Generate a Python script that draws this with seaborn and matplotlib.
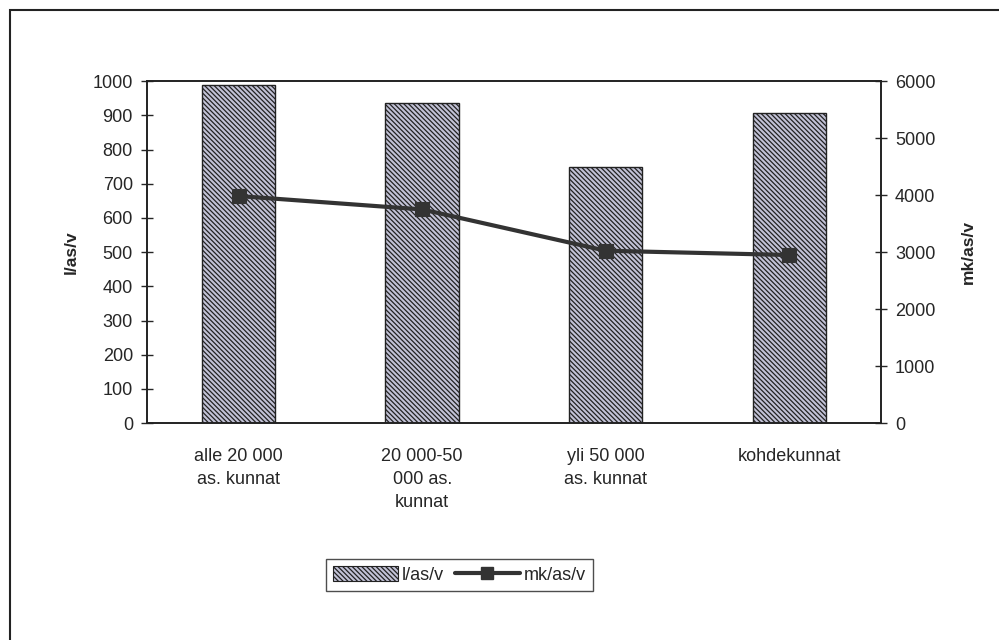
import numpy as np
import pandas as pd
import matplotlib
matplotlib.use("Agg")
import matplotlib.pyplot as plt
import seaborn as sns
from matplotlib.patches import Patch, Rectangle
from matplotlib.lines import Line2D

# data
categories = ["alle 20 000\nas. kunnat", "20 000-50\n000 as.\nkunnat",
              "yli 50 000\nas. kunnat", "kohdekunnat"]
litres = [990, 935, 750, 908]          # l/as/v, left axis
costs = [3985, 3750, 3025, 2950]       # mk/as/v, right axis

sns.set_theme(style="white")
plt.rcParams['font.family'] = ['Liberation Sans', 'DejaVu Sans']

df = pd.DataFrame({"cat": categories, "l": litres, "mk": costs})

fig = plt.figure(figsize=(9.99, 6.4), dpi=100)
ax = fig.add_axes([0.147, 0.339, 0.735, 0.534])

plt.rcParams['hatch.linewidth'] = 0.9
plt.rcParams['hatch.color'] = '#2a2a38'
hatch = "\\\\\\\\\\\\\\"
sns.barplot(data=df, x="cat", y="l", ax=ax, color="#c2c2d6", width=0.4,
            edgecolor="#222222", linewidth=1.0, saturation=1)
for b in ax.patches:
    b.set_hatch(hatch)

ax.set_xlim(-0.5, 3.5)
ax.set_ylim(0, 1000)
ax.set_yticks(np.arange(0, 1001, 100))
ax.set_xlabel("")
ax.set_ylabel("l/as/v", fontsize=12.5, fontweight="bold", labelpad=10)
ax.tick_params(axis="y", direction="inout", length=8, width=1, labelsize=13, pad=6)
ax.set_xticks(range(4))
ax.set_xticklabels(categories, fontsize=13, linespacing=1.45)
ax.tick_params(axis="x", length=0, pad=18)
ax.set_xticks([-0.5, 0.5, 1.5, 2.5, 3.5], minor=True)
ax.tick_params(axis="x", which="minor", direction="inout", length=8, width=1)
for s in ax.spines.values():
    s.set_color("#222222")
    s.set_linewidth(1.2)

ax2 = ax.twinx()
sns.pointplot(data=df, x="cat", y="mk", ax=ax2, color="#333333", markers="s",
              markersize=8, linewidth=3)
ax2.set_xlim(-0.5, 3.5)
ax2.set_ylim(0, 6000)
ax2.set_yticks(np.arange(0, 6001, 1000))
ax2.set_ylabel("mk/as/v", fontsize=12.5, fontweight="bold", labelpad=18)
ax2.tick_params(axis="y", direction="inout", length=8, width=1, labelsize=13, pad=6)
for s in ax2.spines.values():
    s.set_color("#222222")
    s.set_linewidth(1.2)

bar_handle = Patch(facecolor="#c2c2d6", edgecolor="#222222", hatch=hatch, linewidth=0.8)
line_handle = Line2D([], [], color="#333333", linewidth=3, marker="s", markersize=8)
leg = fig.legend([bar_handle, line_handle], ["l/as/v", "mk/as/v"], loc="center",
                 bbox_to_anchor=(0.46, 0.102), ncol=2, fontsize=13, frameon=True,
                 fancybox=False, edgecolor="#222222", handlelength=3.6,
                 handleheight=0.9, handletextpad=0.2, columnspacing=0.6,
                 borderpad=0.4, borderaxespad=0)
leg.get_frame().set_linewidth(1.0)

# outer chart-area frame
fig.add_artist(Rectangle((0.01, -0.02), 1.0, 1.004, transform=fig.transFigure,
                         fill=False, edgecolor="#222222", linewidth=1.5))

fig.savefig("out.png", dpi=100, facecolor="white")
